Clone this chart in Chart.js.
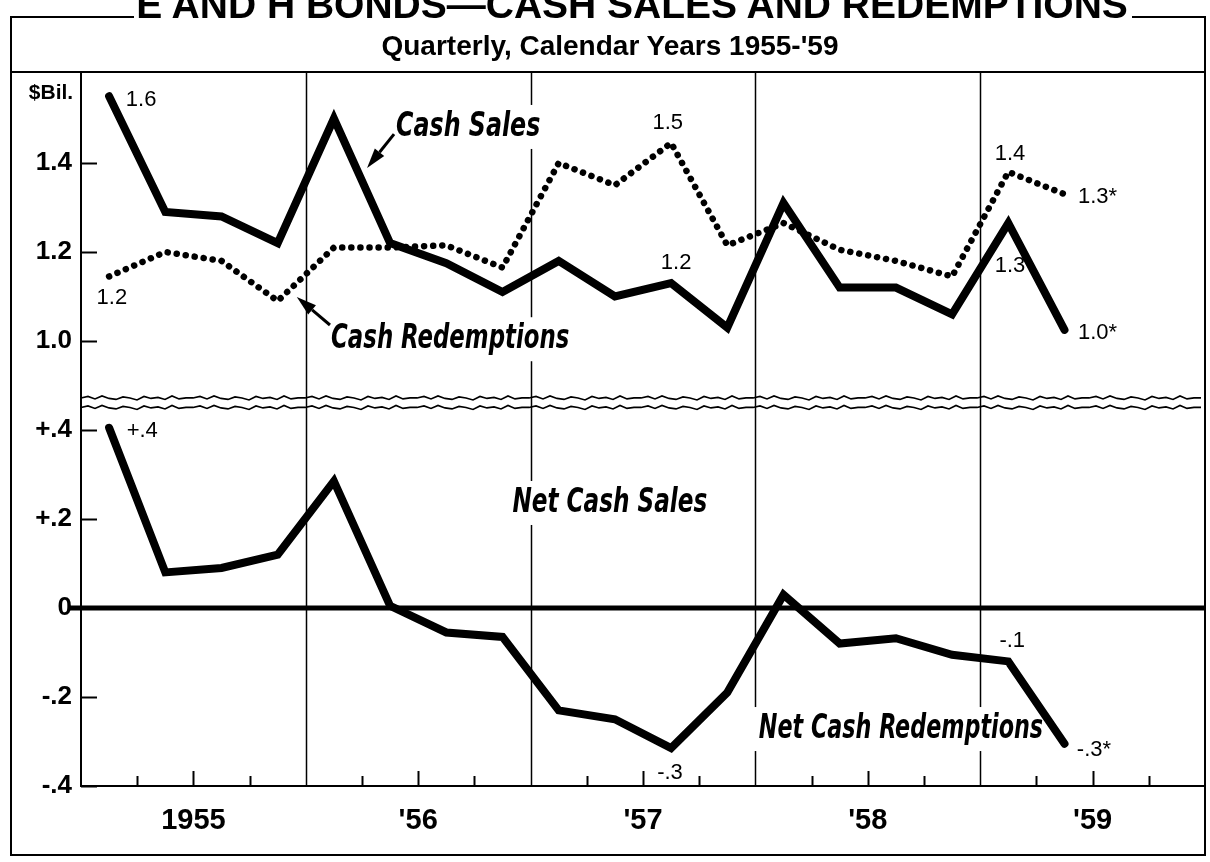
<!DOCTYPE html>
<html>
<head>
<meta charset="utf-8">
<title>E and H Bonds - Cash Sales and Redemptions</title>
<script src="https://cdn.jsdelivr.net/npm/chart.js@4.4.1/dist/chart.umd.min.js"></script>
<style>
  html, body { margin: 0; padding: 0; background: #fff; }
  #wrap { position: relative; width: 1210px; height: 862px; overflow: hidden; background: #fff; }
  #bonds-chart { position: absolute; left: 0; top: 0; }
  .head {
    position: absolute; left: 0; text-align: center; color: #000;
    font-weight: bold; white-space: nowrap;
    font-family: 'Liberation Sans', Arial, sans-serif;
  }
  #title { top: -15px; width: 1264px; font-size: 39px; line-height: 39px; }
  #subtitle { top: 31px; width: 1220px; font-size: 28px; line-height: 30px; }
</style>
</head>
<body>
<div id="wrap">
  <canvas id="bonds-chart" width="1210" height="862"></canvas>
  <div id="title" class="head">E AND H BONDS—CASH SALES AND REDEMPTIONS</div>
  <div id="subtitle" class="head">Quarterly, Calendar Years 1955-'59</div>
</div>

<script>
// E and H bonds, quarterly, $ billions (1955 Q1 .. 1959 Q2)
const quarters = [
  '1955 Q1', '1955 Q2', '1955 Q3', '1955 Q4',
  '1956 Q1', '1956 Q2', '1956 Q3', '1956 Q4',
  '1957 Q1', '1957 Q2', '1957 Q3', '1957 Q4',
  '1958 Q1', '1958 Q2', '1958 Q3', '1958 Q4',
  '1959 Q1', '1959 Q2'
];
const cashSales = [1.55, 1.29, 1.28, 1.22, 1.50, 1.22, 1.175, 1.11, 1.18, 1.10, 1.13, 1.03, 1.31, 1.12, 1.12, 1.06, 1.265, 1.025];
const cashRedemptions = [1.145, 1.20, 1.18, 1.09, 1.21, 1.21, 1.215, 1.165, 1.40, 1.35, 1.445, 1.215, 1.265, 1.205, 1.18, 1.145, 1.38, 1.33];
const netCashSales = [0.405, 0.08, 0.09, 0.12, 0.285, 0.005, -0.055, -0.065, -0.23, -0.25, -0.315, -0.19, 0.03, -0.08, -0.068, -0.105, -0.12, -0.305];

const yearLabels = ['1955', "'56", "'57", "'58", "'59"];
const topTicks = [1.0, 1.2, 1.4];
const topTickLabels = ['1.0', '1.2', '1.4'];
const bottomTicks = [0.4, 0.2, 0, -0.2, -0.4];
const bottomTickLabels = ['+.4', '+.2', '0', '-.2', '-.4'];

// axis ranges (both panels share the same $ per pixel)
const topMin = 0.862, topMax = 1.6045;
const botMin = -0.4, botMax = 0.462;

const sans = "'Liberation Sans', Arial, sans-serif";
const condensed = "'DejaVu Sans Condensed', 'Liberation Sans', sans-serif";
const italicFont = 'italic bold 33px ' + condensed;
const noteFont = '22px ' + sans;

// text notes on the plot, in axis units
const notes = [
  { text: '1.6', x: 1.07, y: 1.542, axis: 'yTop', font: noteFont },
  { text: '1.2', x: 0.55, y: 1.097, axis: 'yTop', font: noteFont },
  { text: '1.5', x: 10.44, y: 1.49, axis: 'yTop', font: noteFont },
  { text: '1.2', x: 10.59, y: 1.175, axis: 'yTop', font: noteFont },
  { text: '1.4', x: 16.53, y: 1.42, axis: 'yTop', font: noteFont },
  { text: '1.3*', x: 17.74, y: 1.324, axis: 'yTop', font: noteFont, align: 'left' },
  { text: '1.3', x: 16.53, y: 1.169, axis: 'yTop', font: noteFont },
  { text: '1.0*', x: 17.74, y: 1.018, axis: 'yTop', font: noteFont, align: 'left' },
  { text: 'Cash Sales', x: 6.89, y: 1.481, axis: 'yTop', font: italicFont, squeeze: 0.8, knockout: true },
  { text: 'Cash Redemptions', x: 6.57, y: 1.004, axis: 'yTop', font: italicFont, squeeze: 0.77, knockout: true },
  { text: '+.4', x: 1.09, y: 0.398, axis: 'yBot', font: noteFont },
  { text: 'Net Cash Sales', x: 9.41, y: 0.236, axis: 'yBot', font: italicFont, squeeze: 0.78, knockout: true },
  { text: 'Net Cash Redemptions', x: 14.59, y: -0.272, axis: 'yBot', font: italicFont, squeeze: 0.75, knockout: true },
  { text: '-.3', x: 10.48, y: -0.371, axis: 'yBot', font: noteFont },
  { text: '-.1', x: 16.57, y: -0.074, axis: 'yBot', font: noteFont },
  { text: '-.3*', x: 17.72, y: -0.319, axis: 'yBot', font: noteFont, align: 'left' }
];

const arrows = [
  { from: { x: 5.57, y: 1.465 }, to: { x: 5.09, y: 1.389 }, axis: 'yTop' },
  { from: { x: 4.43, y: 1.036 }, to: { x: 3.84, y: 1.099 }, axis: 'yTop' }
];

// little irregular offsets for the scale-break lines
const breakWiggle = [0, -1.5, 1, -2, 0.5, 1.5, -1, 0, 2, -1.5, 0.5, -0.5, 1.5, -2, 1, 0];

const toPoints = arr => arr.map((v, i) => ({ x: i + 0.5, y: v }));

function drawArrow(ctx, x1, y1, x2, y2) {
  const ang = Math.atan2(y2 - y1, x2 - x1);
  const head = 20, half = 6;
  const bx = x2 - head * Math.cos(ang), by = y2 - head * Math.sin(ang);
  ctx.lineWidth = 3;
  ctx.beginPath();
  ctx.moveTo(x1, y1);
  ctx.lineTo(bx, by);
  ctx.stroke();
  ctx.beginPath();
  ctx.moveTo(x2, y2);
  ctx.lineTo(bx + half * Math.sin(ang), by - half * Math.cos(ang));
  ctx.lineTo(bx - half * Math.sin(ang), by + half * Math.cos(ang));
  ctx.closePath();
  ctx.fill();
}

function wavyLine(ctx, x0, x1, y) {
  ctx.beginPath();
  let k = 0;
  for (let x = x0; x <= x1; x += 7) {
    const dy = breakWiggle[k % breakWiggle.length];
    if (k === 0) ctx.moveTo(x, y + dy); else ctx.lineTo(x, y + dy);
    k++;
  }
  ctx.stroke();
}

const paperPlugin = {
  id: 'paper',
  beforeDatasetsDraw(chart) {
    const ctx = chart.ctx;
    const area = chart.chartArea;
    const xs = chart.scales.x;
    ctx.save();
    ctx.strokeStyle = '#000';
    ctx.fillStyle = '#000';

    // year boundaries
    ctx.lineWidth = 1.5;
    [4, 8, 12, 16].forEach(q => {
      const px = Math.round(xs.getPixelForValue(q)) + 0.5;
      ctx.beginPath();
      ctx.moveTo(px, area.top);
      ctx.lineTo(px, area.bottom);
      ctx.stroke();
    });

    // quarter ticks on the time axis
    for (let q = 1; q < 20; q++) {
      if (q % 4 === 0) continue;
      const px = Math.round(xs.getPixelForValue(q)) + 0.5;
      const len = q % 4 === 2 ? 15 : 10;
      ctx.lineWidth = 2;
      ctx.beginPath();
      ctx.moveTo(px, area.bottom);
      ctx.lineTo(px, area.bottom - len);
      ctx.stroke();
    }

    // inside ticks on the value axes
    ctx.lineWidth = 2;
    [['yTop', topTicks], ['yBot', bottomTicks]].forEach(([id, vals]) => {
      const sc = chart.scales[id];
      vals.forEach(v => {
        if (v === 0) return;
        const py = Math.round(sc.getPixelForValue(v)) + 0.5;
        ctx.beginPath();
        ctx.moveTo(area.left, py);
        ctx.lineTo(area.left + 16, py);
        ctx.stroke();
      });
    });

    // zero line
    const y0 = chart.scales.yBot.getPixelForValue(0);
    ctx.lineWidth = 5;
    ctx.beginPath();
    ctx.moveTo(area.left - 12, y0);
    ctx.lineTo(area.right, y0);
    ctx.stroke();

    // scale break
    const split = chart.scales.yTop.bottom;
    ctx.lineWidth = 1.6;
    wavyLine(ctx, area.left, area.right, split - 4.5);
    wavyLine(ctx, area.left, area.right, split + 5);

    // text notes
    notes.forEach(n => {
      const px = xs.getPixelForValue(n.x);
      const py = chart.scales[n.axis].getPixelForValue(n.y);
      const sq = n.squeeze || 1;
      ctx.font = n.font;
      ctx.textAlign = n.align || 'center';
      ctx.textBaseline = 'middle';
      if (n.knockout) {
        const w = ctx.measureText(n.text).width * sq;
        const left = n.align === 'left' ? px : px - w / 2;
        ctx.fillStyle = '#fff';
        ctx.fillRect(left - 8, py - 22, w + 16, 44);
      }
      ctx.fillStyle = '#000';
      ctx.save();
      ctx.translate(px, py);
      ctx.scale(sq, 1);
      ctx.fillText(n.text, 0, 0);
      ctx.restore();
    });

    // pointer arrows
    arrows.forEach(a => {
      const ys = chart.scales[a.axis];
      drawArrow(ctx,
        xs.getPixelForValue(a.from.x), ys.getPixelForValue(a.from.y),
        xs.getPixelForValue(a.to.x), ys.getPixelForValue(a.to.y));
    });
    ctx.restore();
  },
  afterDraw(chart) {
    const ctx = chart.ctx;
    const area = chart.chartArea;
    ctx.save();
    ctx.strokeStyle = '#000';
    ctx.lineWidth = 2;
    // outer frame
    ctx.beginPath();
    ctx.moveTo(134, 17); ctx.lineTo(11, 17); ctx.lineTo(11, 855);
    ctx.lineTo(1205, 855); ctx.lineTo(1205, 17); ctx.lineTo(1132, 17);
    ctx.moveTo(11, area.top); ctx.lineTo(1205, area.top);
    ctx.stroke();
    // axes
    ctx.beginPath();
    ctx.moveTo(area.left, area.top); ctx.lineTo(area.left, area.bottom);
    ctx.lineTo(area.right, area.bottom);
    ctx.stroke();
    ctx.fillStyle = '#000';
    ctx.font = 'bold 21px ' + sans;
    ctx.textAlign = 'center';
    ctx.textBaseline = 'middle';
    ctx.fillText('$Bil.', 51, 93);
    ctx.restore();
  }
};

const tickFont = { family: sans, size: 26, weight: 'bold' };

const ctx = document.getElementById('bonds-chart').getContext('2d');
new Chart(ctx, {
  type: 'line',
  data: {
    labels: quarters,
    datasets: [
      {
        label: 'Cash Sales',
        data: toPoints(cashSales),
        yAxisID: 'yTop',
        borderColor: '#000',
        borderWidth: 8,
        borderJoinStyle: 'miter',
        borderCapStyle: 'round',
        pointRadius: 0,
        tension: 0,
        fill: false
      },
      {
        label: 'Cash Redemptions',
        data: toPoints(cashRedemptions),
        yAxisID: 'yTop',
        borderColor: '#000',
        borderWidth: 6.5,
        borderDash: [0.1, 9],
        borderCapStyle: 'round',
        pointRadius: 0,
        tension: 0,
        fill: false
      },
      {
        label: 'Net Cash Sales',
        data: toPoints(netCashSales),
        yAxisID: 'yBot',
        borderColor: '#000',
        borderWidth: 8,
        borderJoinStyle: 'miter',
        borderCapStyle: 'round',
        pointRadius: 0,
        tension: 0,
        fill: false
      }
    ]
  },
  options: {
    responsive: false,
    animation: false,
    events: [],
    layout: { padding: { top: 72, right: 5, bottom: 16, left: 0 } },
    plugins: { legend: { display: false }, tooltip: { enabled: false }, title: { display: false } },
    scales: {
      x: {
        type: 'linear',
        min: 0,
        max: 20,
        grid: { display: false, drawTicks: false },
        border: { display: false },
        afterBuildTicks: s => { s.ticks = [2, 6, 10, 14, 18].map(v => ({ value: v })); },
        afterFit: s => { s.height = 60; },
        ticks: {
          autoSkip: false,
          maxRotation: 0,
          padding: 18,
          color: '#000',
          font: { family: sans, size: 29, weight: 'bold' },
          callback: (v, i) => yearLabels[i]
        }
      },
      // listed first so that it is stacked at the bottom
      yBot: {
        type: 'linear',
        position: 'left',
        stack: 'panels',
        stackWeight: botMax - botMin,
        min: botMin,
        max: botMax,
        grid: { display: false, drawTicks: false },
        border: { display: false },
        afterBuildTicks: s => { s.ticks = bottomTicks.map(v => ({ value: v })); },
        afterFit: s => { s.width = 81; },
        ticks: { padding: 9, color: '#000', font: tickFont, callback: (v, i) => bottomTickLabels[i] }
      },
      yTop: {
        type: 'linear',
        position: 'left',
        stack: 'panels',
        stackWeight: topMax - topMin,
        min: topMin,
        max: topMax,
        grid: { display: false, drawTicks: false },
        border: { display: false },
        afterBuildTicks: s => { s.ticks = topTicks.map(v => ({ value: v })); },
        afterFit: s => { s.width = 81; },
        ticks: { padding: 9, color: '#000', font: tickFont, callback: (v, i) => topTickLabels[i] }
      }
    }
  },
  plugins: [paperPlugin]
});
</script>
</body>
</html>
